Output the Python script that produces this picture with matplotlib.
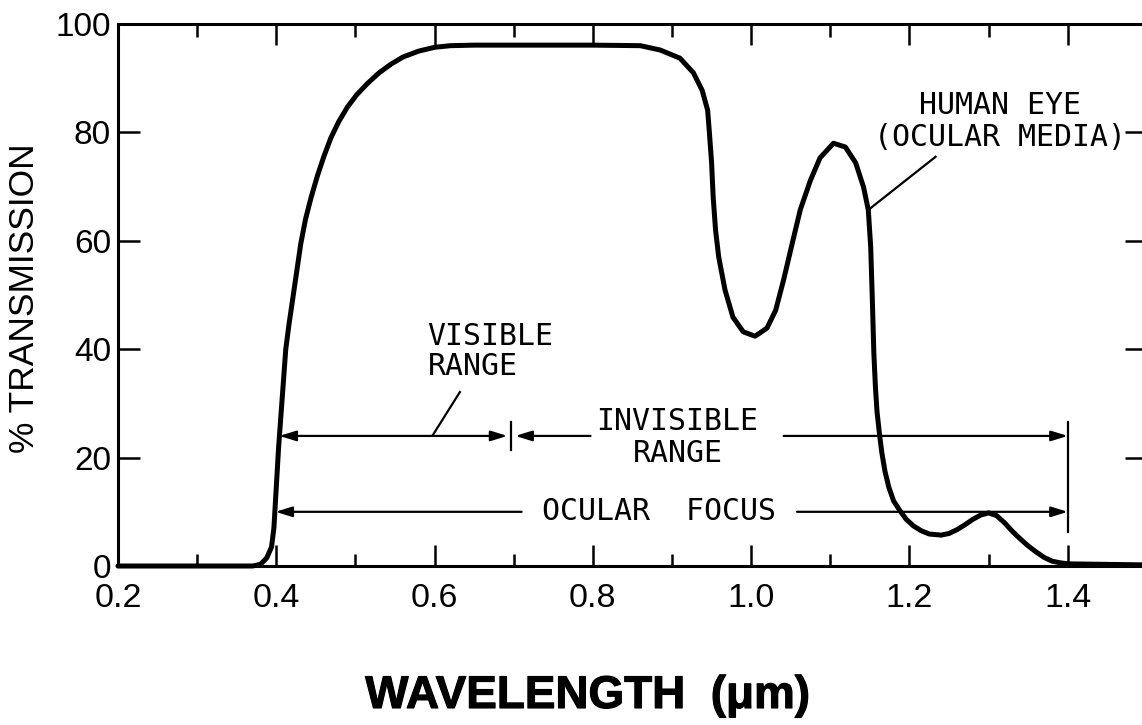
import matplotlib
matplotlib.use("Agg")
import matplotlib.pyplot as plt
from matplotlib.ticker import FixedLocator
from matplotlib.patches import ArrowStyle
import matplotlib.patheffects as pe

# ---------------- data ----------------
wavelength_um = [0.20, 0.30, 0.37, 0.38, 0.388, 0.394, 0.397, 0.399, 0.401, 0.403,
                 0.406, 0.409, 0.412, 0.416, 0.421, 0.426, 0.431, 0.437, 0.444, 0.452,
                 0.460, 0.469, 0.479, 0.490, 0.502, 0.515, 0.530, 0.545, 0.560, 0.580,
                 0.600, 0.620, 0.650, 0.700, 0.800, 0.860, 0.885, 0.910, 0.927, 0.938,
                 0.945, 0.947, 0.950, 0.952, 0.955, 0.959, 0.967, 0.977, 0.990, 1.005,
                 1.020, 1.031, 1.041, 1.052, 1.062, 1.075, 1.087, 1.104, 1.119, 1.132,
                 1.142, 1.148, 1.151, 1.153, 1.155, 1.157, 1.159, 1.162, 1.165, 1.169,
                 1.174, 1.180, 1.188, 1.196, 1.205, 1.215, 1.225, 1.240, 1.250, 1.260,
                 1.270, 1.280, 1.290, 1.300, 1.310, 1.320, 1.330, 1.340, 1.350, 1.360,
                 1.370, 1.380, 1.390, 1.400, 1.450, 1.500]
transmission_pct = [0.0, 0.0, 0.0, 0.3, 1.5, 3.5, 7.0, 12.0, 17.0, 22.0,
                    28.0, 34.0, 40.0, 44.5, 49.5, 54.5, 59.5, 64.0, 68.0, 72.0,
                    75.5, 79.0, 82.0, 84.7, 87.0, 89.0, 91.0, 92.6, 93.9, 95.0,
                    95.7, 96.0, 96.1, 96.1, 96.1, 96.0, 95.2, 93.7, 91.0, 87.8,
                    84.1, 80.4, 74.4, 68.1, 62.0, 57.0, 50.9, 45.9, 43.2, 42.4,
                    43.9, 47.2, 52.8, 59.6, 65.7, 71.2, 75.3, 78.0, 77.3, 74.4,
                    69.9, 65.7, 58.9, 49.6, 39.3, 33.0, 28.5, 24.5, 21.0, 17.5,
                    14.5, 12.0, 10.2, 8.6, 7.4, 6.5, 5.9, 5.7, 6.0, 6.7,
                    7.6, 8.6, 9.4, 9.8, 9.3, 8.0, 6.4, 5.0, 3.7, 2.6,
                    1.6, 0.9, 0.6, 0.4, 0.3, 0.2]

x_major_ticks = [0.2, 0.4, 0.6, 0.8, 1.0, 1.2, 1.4]
x_minor_ticks = [0.3, 0.5, 0.7, 0.9, 1.1, 1.3]
x_tick_labels = ["0.2", "0.4", "0.6", "0.8", "1.0", "1.2", "1.4"]
y_major_ticks = [0, 20, 40, 60, 80, 100]
y_tick_labels = ["0", "20", "40", "60", "80", "100"]

visible_range = (0.404, 0.692)
invisible_range = (0.702, 1.40)
ocular_focus = (0.399, 1.40)
range_line_y = 24.0
focus_line_y = 10.0

# ---------------- figure ----------------
plt.rcParams['font.family'] = ['Liberation Sans', 'DejaVu Sans']
fig = plt.figure(figsize=(11.42, 7.25), dpi=100)
fig.patch.set_facecolor('white')
ax = fig.add_axes([0.1033, 0.2193, 0.901, 0.7476])

ax.plot(wavelength_um, transmission_pct, color='black', lw=3.6,
        solid_capstyle='round', solid_joinstyle='round', clip_on=False, zorder=3)

ax.set_xlim(0.2, 1.5)
ax.set_ylim(0, 100)
ax.xaxis.set_major_locator(FixedLocator(x_major_ticks))
ax.set_xticklabels(x_tick_labels)
ax.xaxis.set_minor_locator(FixedLocator(x_minor_ticks))
ax.yaxis.set_major_locator(FixedLocator(y_major_ticks))
ax.set_yticklabels(y_tick_labels)

for s in ax.spines.values():
    s.set_linewidth(2.2)
ax.tick_params(axis='x', which='major', direction='in', top=True, bottom=True,
               length=15, width=1.8, labelsize=24.5, pad=12.5)
ax.tick_params(axis='x', which='minor', direction='in', top=True, bottom=True,
               length=9, width=1.8)
ax.tick_params(axis='y', which='major', direction='in', left=True, right=True,
               length=16, width=1.8, labelsize=24, pad=5)

# ---------------- annotations ----------------
mono = 'DejaVu Sans Mono'
tfs = 21.5
ahead = ArrowStyle('-|>', head_length=0.55, head_width=0.17)
ahead2 = ArrowStyle('<|-|>', head_length=0.55, head_width=0.17)
akw = dict(color='black', lw=1.6, shrinkA=0, shrinkB=0, mutation_scale=18)

ax.annotate('', xy=(visible_range[1], range_line_y), xytext=(visible_range[0], range_line_y),
            arrowprops=dict(arrowstyle=ahead2, **akw))
ax.plot([0.697, 0.697], [range_line_y - 2.6, range_line_y + 2.6], color='black', lw=1.6)
ax.annotate('', xy=(invisible_range[0], range_line_y), xytext=(0.797, range_line_y),
            arrowprops=dict(arrowstyle=ahead, **akw))
ax.annotate('', xy=(invisible_range[1], range_line_y), xytext=(1.041, range_line_y),
            arrowprops=dict(arrowstyle=ahead, **akw))
ax.plot([1.40, 1.40], [6.3, 26.6], color='black', lw=1.6)
ax.annotate('', xy=(ocular_focus[0], focus_line_y), xytext=(0.710, focus_line_y),
            arrowprops=dict(arrowstyle=ahead, **akw))
ax.annotate('', xy=(ocular_focus[1], focus_line_y), xytext=(1.058, focus_line_y),
            arrowprops=dict(arrowstyle=ahead, **akw))

ax.text(0.591, 39.5, "VISIBLE\nRANGE", family=mono, fontsize=tfs, ha='left', va='center',
        linespacing=1.05)
ax.plot([0.632, 0.598], [32.1, 24.2], color='black', lw=1.6)
ax.text(0.907, 23.7, "INVISIBLE\nRANGE", family=mono, fontsize=tfs, ha='center', va='center',
        linespacing=1.1, multialignment='center')
ax.text(0.884, 10.0, "OCULAR  FOCUS", family=mono, fontsize=tfs, ha='center', va='center')
ax.text(1.315, 82.0, "HUMAN EYE\n(OCULAR MEDIA)", family=mono, fontsize=tfs, ha='center',
        va='center', linespacing=1.1, multialignment='center')
ax.plot([1.233, 1.148], [75.5, 65.7], color='black', lw=1.6)

# axis labels
fig.text(25 / 1142, 1 - 298 / 725, "% TRANSMISSION", rotation=90, ha='center', va='center',
         fontsize=25.5)
fig.text(588 / 1142, (725 - 708) / 725, "WAVELENGTH  (μm)", ha='center', va='baseline',
         fontsize=33, fontweight='bold',
         path_effects=[pe.withStroke(linewidth=0.8, foreground='black')])

fig.savefig("out.png", dpi=100, facecolor='white')
